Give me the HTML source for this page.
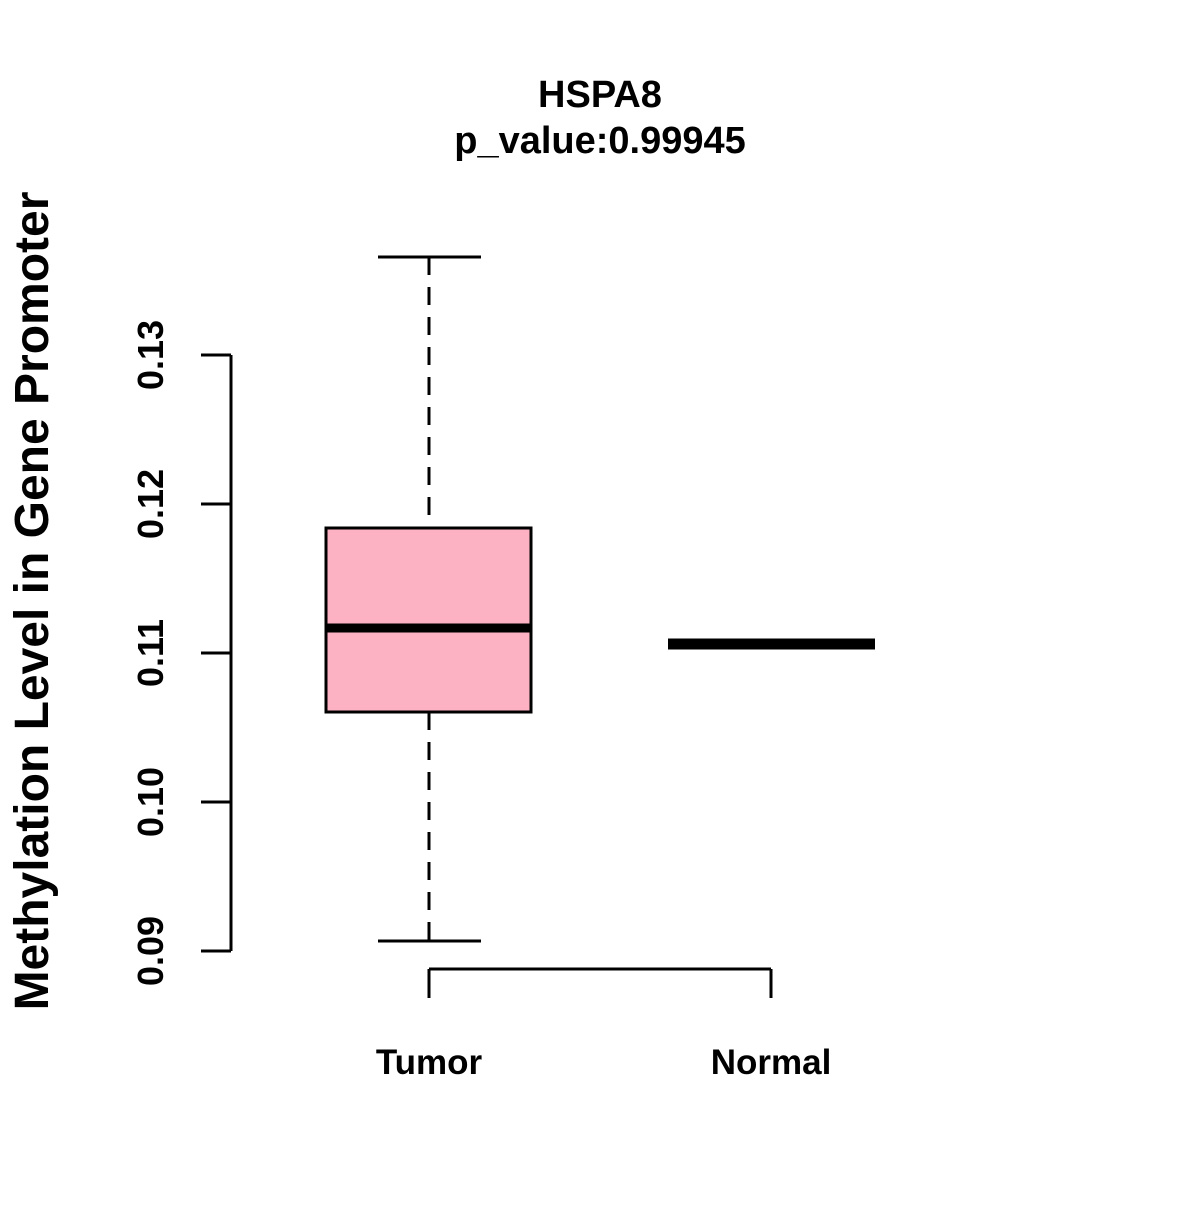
<!DOCTYPE html>
<html><head><style>body{margin:0;background:#fff}</style></head><body>
<svg width="1200" height="1200" xmlns="http://www.w3.org/2000/svg" font-family="Liberation Sans, sans-serif" font-weight="bold">
<rect width="1200" height="1200" fill="#fff"/>
<text x="600" y="107" font-size="38" text-anchor="middle">HSPA8</text>
<text x="600" y="153" font-size="38" text-anchor="middle">p_value:0.99945</text>
<g stroke="#000" stroke-width="3" fill="none">
<line x1="231" y1="355" x2="231" y2="951"/>
<line x1="201" y1="355" x2="231" y2="355"/>
<line x1="201" y1="504" x2="231" y2="504"/>
<line x1="201" y1="653" x2="231" y2="653"/>
<line x1="201" y1="802" x2="231" y2="802"/>
<line x1="201" y1="951" x2="231" y2="951"/>
<line x1="429" y1="969" x2="771" y2="969"/>
<line x1="429" y1="969" x2="429" y2="998"/>
<line x1="771" y1="969" x2="771" y2="998"/>
<line x1="429" y1="257" x2="429" y2="528" stroke-dasharray="18,12"/>
<line x1="429" y1="712" x2="429" y2="941" stroke-dasharray="18,12"/>
<line x1="378" y1="257" x2="481" y2="257"/>
<line x1="378" y1="941" x2="481" y2="941"/>
</g>
<rect x="326" y="528" width="205" height="184" fill="#fdb2c3" stroke="#000" stroke-width="3"/>
<line x1="326" y1="628" x2="531" y2="628" stroke="#000" stroke-width="9"/>
<line x1="668" y1="644" x2="875" y2="644" stroke="#000" stroke-width="11"/>
<g font-size="36" text-anchor="middle">
<text transform="translate(163,355) rotate(-90)">0.13</text>
<text transform="translate(163,504) rotate(-90)">0.12</text>
<text transform="translate(163,653) rotate(-90)">0.11</text>
<text transform="translate(163,802) rotate(-90)">0.10</text>
<text transform="translate(163,951) rotate(-90)">0.09</text>
</g>
<g font-size="35" text-anchor="middle">
<text x="429" y="1074">Tumor</text>
<text x="771" y="1074">Normal</text>
</g>
<text transform="translate(48,601) rotate(-90)" font-size="48" text-anchor="middle">Methylation Level in Gene Promoter</text>
</svg>
</body></html>
